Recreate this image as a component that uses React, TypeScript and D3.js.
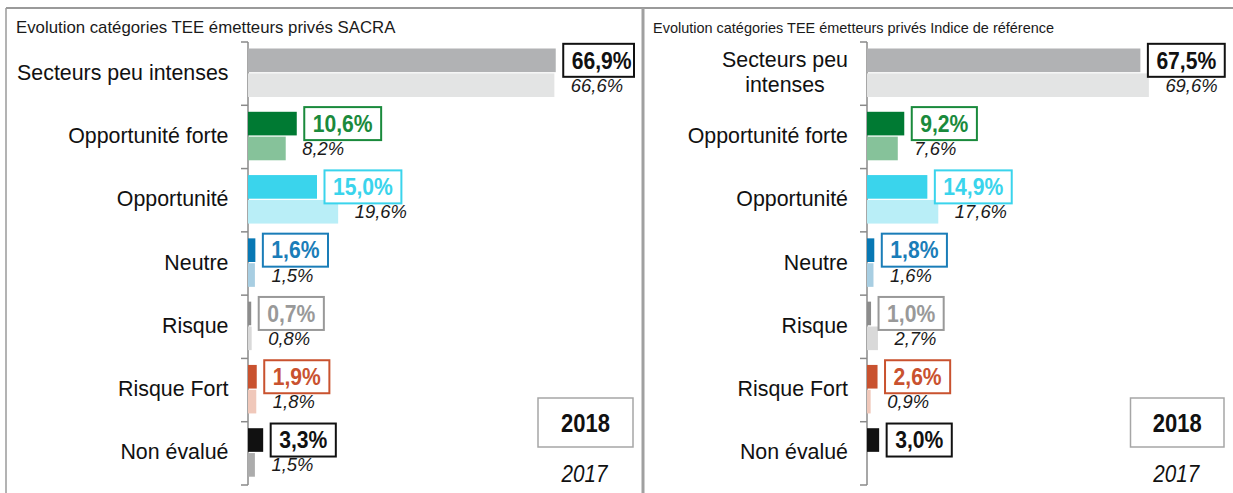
import React from "react";
import * as d3 from "d3";

const categories = [
  "Secteurs peu intenses",
  "Opportunité forte",
  "Opportunité",
  "Neutre",
  "Risque",
  "Risque Fort",
  "Non évalué",
];
const sacra2018 = [66.9, 10.6, 15.0, 1.6, 0.7, 1.9, 3.3];
const sacra2017 = [66.6, 8.2, 19.6, 1.5, 0.8, 1.8, 1.5];
const indice2018 = [67.5, 9.2, 14.9, 1.8, 1.0, 2.6, 3.0];
const indice2017: (number | null)[] = [69.6, 7.6, 17.6, 1.6, 2.7, 0.9, null];
const years = ["2018", "2017"];
const titles = [
  "Evolution catégories TEE émetteurs privés SACRA",
  "Evolution catégories TEE émetteurs privés Indice de référence",
];

const colors2018 = ["#b1b2b4", "#007a33", "#3ad4ec", "#0878b4", "#8c8c8c", "#c9522f", "#111111"];
const colors2017 = ["#e3e4e4", "#86c29a", "#b9eef7", "#a8cee2", "#d9d9d9", "#f0c8ba", "#acacac"];
const labelColors = ["#111111", "#1a8a3c", "#3ad4ec", "#1a7db8", "#999999", "#c9522f", "#111111"];

const FONT = '"Liberation Sans", Arial, Helvetica, sans-serif';
const W = 1233;
const H = 493;

let ctx: CanvasRenderingContext2D | null = null;
function measure(text: string, size: number, weight = "normal", style = "normal") {
  if (!ctx) ctx = document.createElement("canvas").getContext("2d");
  if (!ctx) return text.length * size * 0.55;
  ctx.font = `${style} ${weight} ${size}px ${FONT}`;
  return ctx.measureText(text).width;
}

const fmt = (v: number) => d3.format(".1f")(v).replace(".", ",") + "%";

function T(props: any) {
  const { x, y, sx = 1, anchor = "start", children, ...rest } = props;
  return (
    <text
      transform={`translate(${x},${y}) scale(${sx},1)`}
      textAnchor={anchor}
      fontFamily={FONT}
      {...rest}
    >
      {children}
    </text>
  );
}

const CAT_SIZE = 23;
const CAT_SX = 0.93;
const VAL_SIZE = 24;
const VAL_SX = 0.88;
const OLD_SIZE = 19;
const OLD_SX = 0.97;

function wrap(label: string, maxW: number): string[] {
  const words = label.split(" ");
  const lines: string[] = [];
  let cur = "";
  for (const w of words) {
    const test = cur ? cur + " " + w : w;
    if (measure(test, CAT_SIZE) * CAT_SX > maxW && cur) {
      lines.push(cur);
      cur = w;
    } else cur = test;
  }
  if (cur) lines.push(cur);
  return lines;
}

function Panel(props: any) {
  const {
    title, titleX, titleSize, titleSx, v18, v17, axisX, maxX, labelRight, labelMaxW,
    panelRight, legendBox,
  } = props;

  const y0 = d3.scaleBand<string>().domain(categories).range([42, 485]);
  const y1 = d3.scaleBand<string>().domain(years).range([6.5, 55]).paddingInner(0.05);
  const x = d3.scaleLinear().domain([0, 100]).range([axisX, maxX]);
  const step = y0.step();
  const tickYs = d3.range(categories.length + 1).map((i) => y0.range()[0] + i * step);

  return (
    <g>
      <T x={titleX} y={33} sx={titleSx} fontSize={titleSize} fill="#1a1a1a">
        {title}
      </T>
      <line x1={axisX} x2={axisX} y1={tickYs[0]} y2={tickYs[tickYs.length - 1]} stroke="#8a8a8a" strokeWidth={1.5} />
      {tickYs.map((ty, i) => (
        <line key={i} x1={axisX - 7} x2={axisX} y1={ty} y2={ty} stroke="#8a8a8a" strokeWidth={1.5} />
      ))}
      {categories.map((c, i) => {
        const by = y0(c)!;
        const cy = by + step / 2;
        const lines = wrap(c, labelMaxW);
        let labelEl;
        if (lines.length === 1) {
          labelEl = (
            <T x={labelRight} y={cy + 6} sx={CAT_SX} anchor="end" fontSize={CAT_SIZE} fill="#111">
              {c}
            </T>
          );
        } else {
          const wMax = d3.max(lines, (l) => measure(l, CAT_SIZE) * CAT_SX)!;
          const cx = labelRight - wMax / 2;
          labelEl = (
            <g>
              {lines.map((l, k) => (
                <T key={k} x={cx} y={cy + 5.9 + (k - (lines.length - 1) / 2) * 24.4} sx={CAT_SX} anchor="middle" fontSize={CAT_SIZE} fill="#111">
                  {l}
                </T>
              ))}
            </g>
          );
        }
        const a = v18[i];
        const b = v17[i];
        const ya = by + y1("2018")!;
        const yb = by + y1("2017")!;
        const bh = y1.bandwidth();
        const txt = fmt(a);
        const tw = measure(txt, VAL_SIZE, "bold") * VAL_SX;
        const boxL = x(a) + 7.5;
        const textX = boxL + 8.5;
        const boxR = Math.min(textX + tw + 8.5, panelRight - 7);
        const boxH = 33;
        const acy = ya + bh / 2;
        return (
          <g key={c}>
            {labelEl}
            <rect x={axisX} y={ya} width={x(a) - axisX} height={bh} fill={colors2018[i]} />
            {b != null && (
              <rect x={axisX} y={yb} width={x(b) - axisX} height={bh} fill={colors2017[i]} />
            )}
            <rect x={boxL} y={acy - boxH / 2} width={boxR - boxL} height={boxH} fill="#fff" stroke={labelColors[i]} strokeWidth={2} />
            <T x={textX} y={acy + 8.3} sx={VAL_SX} fontSize={VAL_SIZE} fontWeight="bold" fill={labelColors[i]}>
              {txt}
            </T>
            {b != null && (
              <T x={x(b) + 16.5} y={yb + bh / 2 + 6.5} sx={OLD_SX} fontSize={OLD_SIZE} fontStyle="italic" fill="#1a1a1a">
                {fmt(b)}
              </T>
            )}
          </g>
        );
      })}
      <rect x={legendBox[0]} y={398} width={legendBox[1] - legendBox[0]} height={49} fill="#fff" stroke="#a6a6a6" strokeWidth={1.5} />
      <T x={(legendBox[0] + legendBox[1]) / 2} y={432} sx={0.88} anchor="middle" fontSize={25} fontWeight="bold" fill="#111">
        {years[0]}
      </T>
      <T x={(legendBox[0] + legendBox[1]) / 2 - 1} y={482} sx={0.86} anchor="middle" fontSize={24} fontStyle="italic" fill="#111">
        {years[1]}
      </T>
    </g>
  );
}

export default function App() {
  return (
    <svg
      width={W}
      height={H}
      style={{ position: "absolute", left: 0, top: 0, background: "#fff" }}
    >
      <rect x={0} y={0} width={W} height={H} fill="#fff" />
      <line x1={6} x2={W} y1={8} y2={8} stroke="#9a9a9a" strokeWidth={2} />
      <line x1={6} x2={6} y1={8} y2={H} stroke="#9a9a9a" strokeWidth={1.5} />
      <line x1={643} x2={643} y1={8} y2={H} stroke="#a0a0a0" strokeWidth={3} />
      <Panel
        title={titles[0]}
        titleX={16}
        titleSize={16}
        titleSx={1.05}
        v18={sacra2018}
        v17={sacra2017}
        axisX={248}
        maxX={708}
        labelRight={228.5}
        labelMaxW={222}
        panelRight={641}
        legendBox={[538, 633]}
      />
      <Panel
        title={titles[1]}
        titleX={653}
        titleSize={14.2}
        titleSx={1.02}
        v18={indice2018}
        v17={indice2017}
        axisX={867}
        maxX={1272}
        labelRight={848}
        labelMaxW={200}
        panelRight={1232}
        legendBox={[1130.5, 1224]}
      />
    </svg>
  );
}
